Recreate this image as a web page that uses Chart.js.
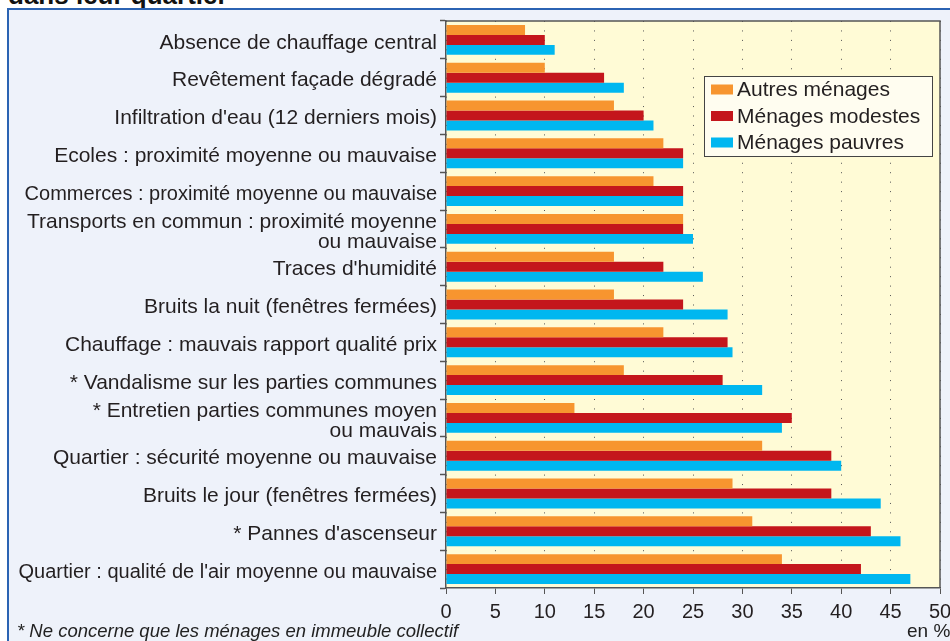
<!DOCTYPE html>
<html>
<head>
<meta charset="utf-8">
<script src="https://cdn.jsdelivr.net/npm/chart.js@4"></script>
<style>
  html, body { margin: 0; padding: 0; background: #fff; }
  body { width: 950px; height: 641px; position: relative; overflow: hidden; font-family: "Liberation Sans", Arial, sans-serif; }
  #title { position: absolute; left: 8px; top: -18px; font-size: 26px; line-height: 26px; font-weight: bold; color: #111; white-space: nowrap; }
  #frame { position: absolute; left: 7px; top: 8px; width: 1000px; height: 700px; border: 2px solid #2b63b3; background: #eef2fa; }
  #chart { position: absolute; left: 0; top: 0; }
  #note { position: absolute; left: 17px; top: 620px; font-size: 18.5px; font-style: italic; color: #222; white-space: nowrap; }
  #unit { position: absolute; left: 907px; top: 620px; font-size: 19px; color: #222; white-space: nowrap; }
</style>
</head>
<body>
<div id="title">dans leur quartier</div>
<div id="frame"></div>
<canvas id="chart" width="950" height="641"></canvas>
<div id="note">* Ne concerne que les ménages en immeuble collectif</div>
<div id="unit">en %</div>
<script>
const categories = [
  "Absence de chauffage central",
  "Revêtement façade dégradé",
  "Infiltration d'eau (12 derniers mois)",
  "Ecoles : proximité moyenne ou mauvaise",
  "Commerces : proximité moyenne ou mauvaise",
  ["Transports en commun : proximité moyenne", "ou mauvaise"],
  "Traces d'humidité",
  "Bruits la nuit (fenêtres fermées)",
  "Chauffage : mauvais rapport qualité prix",
  "* Vandalisme sur les parties communes",
  ["* Entretien parties communes moyen", "ou mauvais"],
  "Quartier : sécurité moyenne ou mauvaise",
  "Bruits le jour (fenêtres fermées)",
  "* Pannes d'ascenseur",
  "Quartier : qualité de l'air moyenne ou mauvaise"
];
const seriesNames = ["Autres ménages", "Ménages modestes", "Ménages pauvres"];
const autres   = [8, 10, 17, 22, 21, 24, 17, 17, 22, 18, 13, 32, 29, 31, 34];
const modestes = [10, 16, 20, 24, 24, 24, 22, 24, 28.5, 28, 35, 39, 39, 43, 42];
const pauvres  = [11, 18, 21, 24, 24, 25, 26, 28.5, 29, 32, 34, 40, 44, 46, 47];
const xTicks = [0, 5, 10, 15, 20, 25, 30, 35, 40, 45, 50];

const colors = ["#f7952f", "#c4161c", "#00b7f0"];
const axisColor = "#555";
const textColor = "#231f20";
// the two long labels are set tighter in the original
const tightLabels = [4, 14];

const plotBackground = {
  id: "plotBackground",
  beforeDraw(chart) {
    const { ctx, chartArea: a } = chart;
    ctx.save();
    ctx.fillStyle = "#fffbd6";
    ctx.fillRect(a.left, a.top, a.right - a.left, a.bottom - a.top);
    ctx.restore();
  },
  afterDraw(chart) {
    const { ctx, chartArea: a } = chart;
    ctx.save();
    ctx.strokeStyle = axisColor;
    ctx.lineWidth = 1.5;
    ctx.beginPath();
    ctx.moveTo(a.left, a.top);
    ctx.lineTo(a.right, a.top);
    ctx.lineTo(a.right, a.bottom);
    ctx.stroke();
    ctx.restore();
  }
};

const boxLegend = {
  id: "boxLegend",
  afterDraw(chart) {
    const ctx = chart.ctx;
    const x = 704, y = 76, w = 228, h = 80;
    ctx.save();
    ctx.fillStyle = "#fffdf0";
    ctx.fillRect(x, y, w, h);
    ctx.strokeStyle = "#444";
    ctx.lineWidth = 1;
    ctx.strokeRect(x + 0.5, y + 0.5, w, h);
    ctx.font = '21px "Liberation Sans", Arial, sans-serif';
    ctx.textBaseline = "middle";
    ctx.fillStyle = textColor;
    chart.data.datasets.forEach((ds, i) => {
      const cy = y + 13.5 + i * 26.5;
      ctx.fillStyle = ds.backgroundColor;
      ctx.fillRect(x + 7, cy - 5, 22, 10);
      ctx.fillStyle = textColor;
      ctx.fillText(ds.label, x + 33, cy + 1);
    });
    ctx.restore();
  }
};

new Chart(document.getElementById("chart"), {
  type: "bar",
  data: {
    labels: categories,
    datasets: [
      { label: seriesNames[0], data: autres, backgroundColor: colors[0] },
      { label: seriesNames[1], data: modestes, backgroundColor: colors[1] },
      { label: seriesNames[2], data: pauvres, backgroundColor: colors[2] }
    ]
  },
  options: {
    indexAxis: "y",
    responsive: false,
    animation: false,
    devicePixelRatio: 1,
    layout: { padding: { top: 21, right: 10, bottom: 13, left: 0 } },
    datasets: {
      bar: { barPercentage: 1, categoryPercentage: 0.79, borderWidth: 0 }
    },
    plugins: {
      legend: { display: false },
      tooltip: { enabled: false }
    },
    scales: {
      x: {
        min: 0,
        max: 50,
        afterBuildTicks: s => { s.ticks = xTicks.map(v => ({ value: v })); },
        afterFit: s => { s.height = 40; s.paddingLeft = 0; s.paddingRight = 0; },
        ticks: {
          color: textColor,
          padding: 6,
          font: { family: '"Liberation Sans", Arial, sans-serif', size: 20 }
        },
        grid: {
          color: axisColor,
          lineWidth: 1,
          tickLength: 6,
          tickColor: axisColor
        },
        border: { color: axisColor, width: 1.5, dash: [1, 8.45] }
      },
      y: {
        afterFit: s => { s.width = 446; s.paddingTop = 0; s.paddingBottom = 0; },
        ticks: {
          color: textColor,
          padding: 3,
          labelOffset: 3,
          autoSkip: false,
          font: c => ({
            family: '"Liberation Sans", Arial, sans-serif',
            size: tightLabels.includes(c.index) ? 20 : 21,
            lineHeight: 0.95
          })
        },
        grid: {
          drawOnChartArea: false,
          tickLength: 6,
          tickColor: axisColor,
          tickWidth: 1.5
        },
        border: { color: axisColor, width: 1.5 }
      }
    }
  },
  plugins: [plotBackground, boxLegend]
});
</script>
</body>
</html>
